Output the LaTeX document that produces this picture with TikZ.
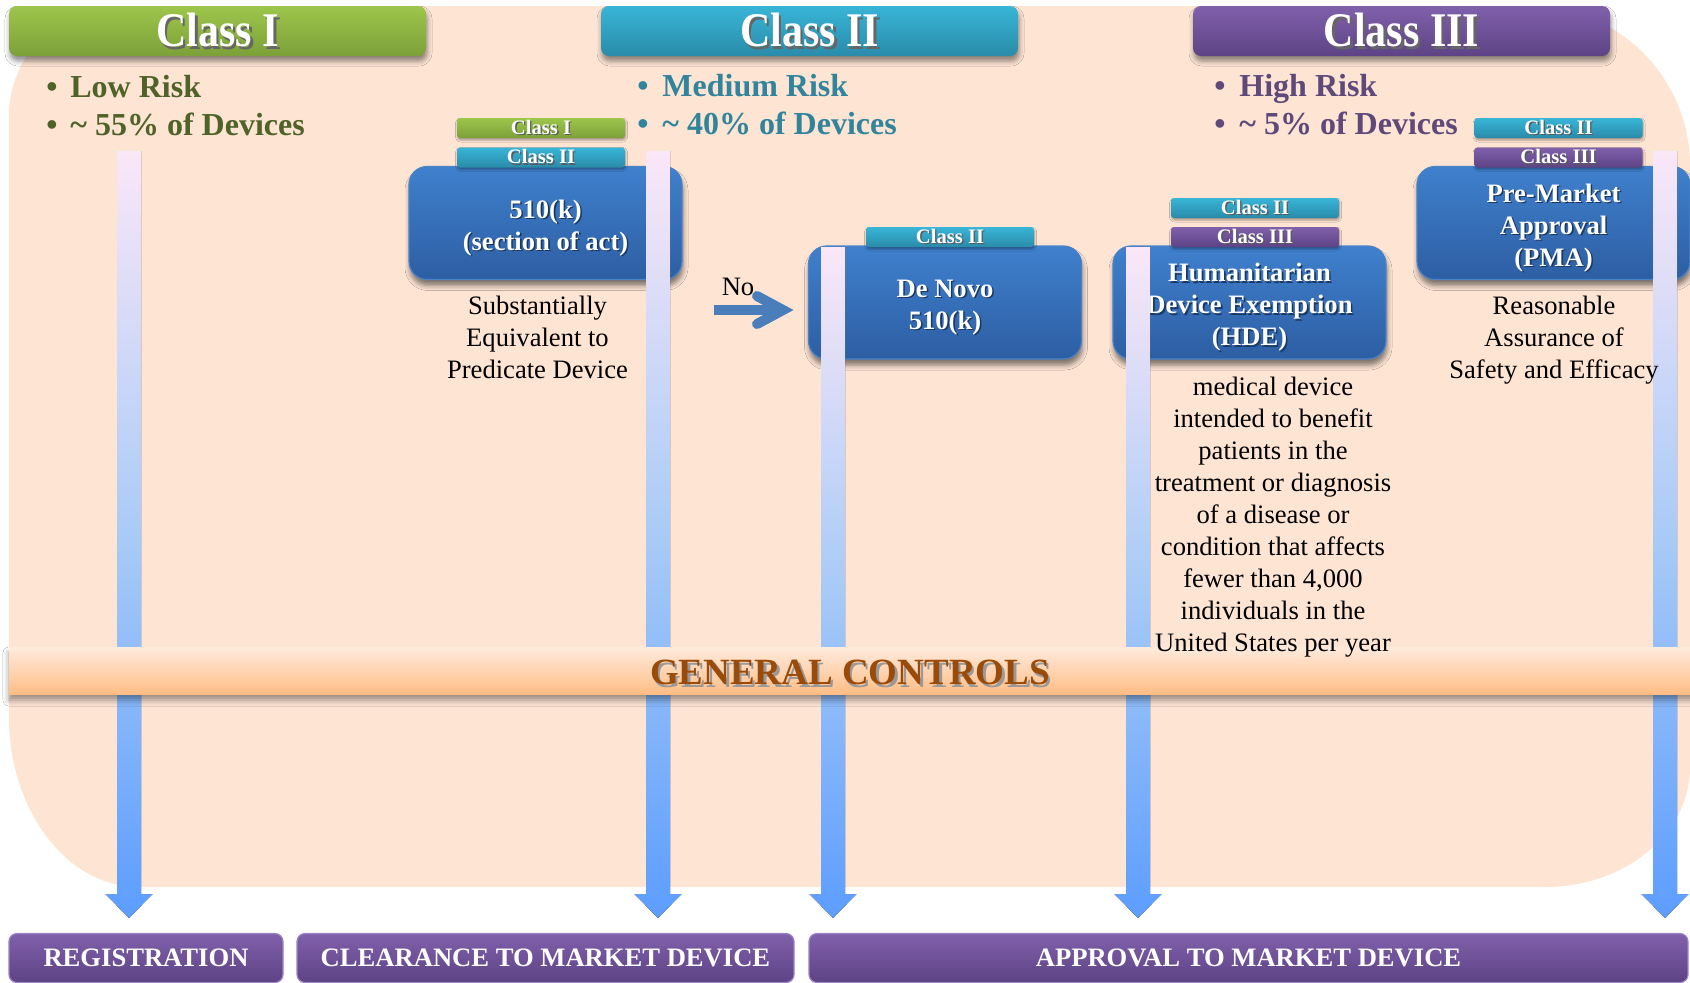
\documentclass[tikz,border=0pt]{standalone}
\usepackage{fontspec}
\usepackage{graphicx}
\setmainfont{Liberation Serif}
\usetikzlibrary{shadows.blur}

\definecolor{peach}{HTML}{FDE4D3}
\definecolor{greenTop}{HTML}{9DC64B}
\definecolor{greenBot}{HTML}{7CA039}
\definecolor{tealTop}{HTML}{38B5D7}
\definecolor{tealBot}{HTML}{2A8BA9}
\definecolor{purpTop}{HTML}{8060AB}
\definecolor{purpBot}{HTML}{5D4385}
\definecolor{purpEdge}{HTML}{9A84C2}
\definecolor{blueTop}{HTML}{3F80CD}
\definecolor{blueBot}{HTML}{2D5EA3}
\definecolor{blueEdge}{HTML}{4A82C8}
\definecolor{arrTop}{HTML}{FAE7F8}
\definecolor{arrMid}{HTML}{A9CBF6}
\definecolor{arrBot}{HTML}{5C9DFF}
\definecolor{bandTop}{HTML}{FFEBDC}
\definecolor{bandMid}{HTML}{FFD4B2}
\definecolor{bandBot}{HTML}{FFBD84}
\definecolor{lowGreen}{HTML}{4F6228}
\definecolor{midTeal}{HTML}{31849B}
\definecolor{highPurple}{HTML}{5F497A}
\definecolor{gcBrown}{HTML}{9A4B09}
\definecolor{noBlue}{HTML}{4A7EBB}
\colorlet{boxShade}{blueBot!60!black}

% text with a small offset shadow behind it
\newcommand\txtshadow[3]{\leavevmode\rlap{\kern#2\raisebox{-#2}{\textcolor{#1}{#3}}}#3}
% white box caption line with a soft dark shadow
\newcommand\bxl[1]{\txtshadow{boxShade}{0.8pt}{#1}}
% tall header lettering
\newcommand\hdrtext[1]{\scalebox{1}[1.15]{\txtshadow{black!60}{1.3pt}{#1}}}

% gradient block arrow pointing down: x centre, top y
\newcommand\downbar[2]{%
  \fill[top color=arrTop, bottom color=arrBot, middle color=arrMid]
    (#1-12,#2) -- (#1+12,#2) -- (#1+12,894) -- (#1+23.5,894) -- (#1,918)
    -- (#1-23.5,894) -- (#1-12,894) -- cycle;}

\tikzset{
  hdr/.style={rounded corners=4pt, minimum width=208.5pt, minimum height=25pt,
    inner sep=0pt, text=white, font=\fontsize{21}{25}\selectfont\bfseries,
    blur shadow={shadow xshift=0.5pt, shadow yshift=-2.5pt, shadow blur radius=2.5pt, shadow opacity=45}},
  tag/.style={rounded corners=1.5pt, minimum width=84pt, minimum height=10pt,
    inner sep=0pt, text=white, font=\fontsize{10.3}{12}\selectfont\bfseries,
    blur shadow={shadow xshift=0.3pt, shadow yshift=-1pt, shadow blur radius=1pt, shadow opacity=35}},
  procbox/.style={rounded corners=9pt, minimum width=136.5pt, minimum height=56.5pt,
    inner sep=0pt, top color=blueTop, bottom color=blueBot, draw=blueEdge, line width=0.6pt,
    blur shadow={shadow xshift=0.5pt, shadow yshift=-3pt, shadow blur radius=2.5pt, shadow opacity=50}},
  boxtext/.style={inner sep=0pt, text=white, align=center, font=\fontsize{13.3}{16}\selectfont\bfseries},
  note/.style={align=center, inner sep=0pt, font=\fontsize{13.3}{16}\selectfont},
  bultext/.style={anchor=base west, inner sep=0pt, font=\fontsize{16}{19}\selectfont\bfseries},
  buldot/.style={anchor=base, inner sep=0pt, font=\fontsize{16}{19}\selectfont\bfseries},
  outbox/.style={rounded corners=4pt, minimum height=24.5pt, inner sep=0pt,
    top color=purpTop, bottom color=purpBot, draw=purpEdge, line width=0.6pt,
    text=white, font=\fontsize{13.3}{16}\selectfont\bfseries},
}

\begin{document}
\begin{tikzpicture}[x=0.5pt, y=-0.5pt]
\path[use as bounding box] (0,0) rectangle (1690,982);
\clip (0,0) rectangle (1690,982);
\fill[white] (0,0) rectangle (1690,982);

% peach backdrop
\fill[peach] (119,6) -- (1530,6) arc[start angle=90, end angle=0, radius=80pt]
  -- (1690,767) arc[start angle=0, end angle=-90, x radius=72.5pt, y radius=60pt]
  -- (139,887) arc[start angle=270, end angle=180, x radius=65pt, y radius=85pt]
  -- (9,116) arc[start angle=180, end angle=90, radius=55pt] -- cycle;

% class headers
\node[hdr, top color=greenTop, bottom color=greenBot] (c1) at (217.5,31) {\hdrtext{Class I}};
\node[hdr, top color=tealTop, bottom color=tealBot] (c2) at (809.5,31) {\hdrtext{Class II}};
\node[hdr, top color=purpTop, bottom color=purpBot] (c3) at (1401.5,31) {\hdrtext{Class III}};

% risk bullets
\node[buldot, text=lowGreen] (d1a) at (52,97) {\textbullet};
\node[bultext, text=lowGreen] (r1a) at (70,97) {Low Risk};
\node[buldot, text=lowGreen] (d1b) at (52,135) {\textbullet};
\node[bultext, text=lowGreen] (r1b) at (70,135) {\textasciitilde{} 55\% of Devices};

\node[buldot, text=midTeal] (d2a) at (643,96) {\textbullet};
\node[bultext, text=midTeal] (r2a) at (662,96) {Medium Risk};
\node[buldot, text=midTeal] (d2b) at (643,134) {\textbullet};
\node[bultext, text=midTeal] (r2b) at (662,134) {\textasciitilde{} 40\% of Devices};

\node[buldot, text=highPurple] (d3a) at (1220,96) {\textbullet};
\node[bultext, text=highPurple] (r3a) at (1239,96) {High Risk};
\node[buldot, text=highPurple] (d3b) at (1220,134) {\textbullet};
\node[bultext, text=highPurple] (r3b) at (1239,134) {\textasciitilde{} 5\% of Devices};

% pathway boxes
\node[procbox] (k510) at (545.5,223) {};
\node[procbox] (novo) at (945,302.5) {};
\node[procbox] (hde) at (1249.5,302.5) {};
\node[procbox] (pma) at (1553.5,223) {};
\node[boxtext] (k510txt) at ([yshift=-2.8pt]k510.center) {\bxl{510(k)}\\\bxl{(section of act)}};
\node[boxtext] (novotxt) at ([yshift=-2.8pt]novo.center) {\bxl{De Novo}\\\bxl{510(k)}};
\node[boxtext] (hdetxt) at ([yshift=-2.8pt]hde.center) {\bxl{Humanitarian}\\\bxl{Device Exemption}\\\bxl{(HDE)}};
\node[boxtext] (pmatxt) at ([yshift=-2.8pt]pma.center) {\bxl{Pre-Market}\\\bxl{Approval}\\\bxl{(PMA)}};

% class tags on the boxes
\node[tag, top color=greenTop, bottom color=greenBot] (k510t1) at (541,128) {\txtshadow{black!65}{0.7pt}{Class I}};
\node[tag, top color=tealTop, bottom color=tealBot] (k510t2) at (541,157.5) {\txtshadow{black!65}{0.7pt}{Class II}};
\node[tag, top color=tealTop, bottom color=tealBot] (novot) at (950,237) {\txtshadow{black!65}{0.7pt}{Class II}};
\node[tag, top color=tealTop, bottom color=tealBot] (hdet1) at (1255,208) {\txtshadow{black!65}{0.7pt}{Class II}};
\node[tag, top color=purpTop, bottom color=purpBot] (hdet2) at (1255,237) {\txtshadow{black!65}{0.7pt}{Class III}};
\node[tag, top color=tealTop, bottom color=tealBot] (pmat1) at (1558.5,128) {\txtshadow{black!65}{0.7pt}{Class II}};
\node[tag, top color=purpTop, bottom color=purpBot] (pmat2) at (1558.5,157.5) {\txtshadow{black!65}{0.7pt}{Class III}};

% description beside the 510(k) box
\node[note] (k510d) at (537.5,337.5) {Substantially\\Equivalent to\\Predicate Device};

% "No" branch arrow
\node[note, anchor=base] (no) at (738,295) {No};
\coordinate (noA) at (714,310);
\coordinate (noB) at (779,310);
\coordinate (noU) at (757,296);
\coordinate (noT) at (783,310);
\coordinate (noL) at (757,324);
\begin{scope}[blur shadow={shadow xshift=1.5pt, shadow yshift=-2pt, shadow blur radius=2pt, shadow opacity=35}]
\draw[noBlue, line width=5pt] (noA) -- (noB);
\draw[noBlue, line width=5pt, line cap=round, line join=miter] (noU) -- (noT) -- (noL);
\end{scope}

% flow arrows
\downbar{129}{151}
\downbar{658}{151}
\downbar{833}{247}
\downbar{1138}{247}
\downbar{1665}{151}

% PMA description, its last letter over the arrow
\node[note] (pmad) at (1554,340.5) {Reasonable\\Assurance of\\Safety and Efficacy};

% general controls band
\fill[top color=bandTop, bottom color=bandBot, middle color=bandMid,
  blur shadow={shadow xshift=0pt, shadow yshift=-3pt, shadow blur radius=3pt, shadow opacity=40}]
  (9,647) rectangle (1700,694);
\node[inner sep=0pt, text=gcBrown, font=\fontsize{18.5}{22}\selectfont\bfseries] (gc) at (850,674)
  {\txtshadow{black!40}{1.3pt}{GENERAL CONTROLS}};

% HDE description, its last line resting on the band
\node[note] (hded) at (1273,517.5) {medical device\\intended to benefit\\patients in the\\treatment or diagnosis\\of a disease or\\condition that affects\\fewer than 4,000\\individuals in the\\United States per year};

% outcomes
\node[outbox, minimum width=137pt] (reg) at (146,958) {REGISTRATION};
\node[outbox, minimum width=248.5pt] (clr) at (545.5,958) {CLEARANCE TO MARKET DEVICE};
\node[outbox, minimum width=439.5pt] (apr) at (1248.5,958) {APPROVAL TO MARKET DEVICE};
\end{tikzpicture}
\end{document}
